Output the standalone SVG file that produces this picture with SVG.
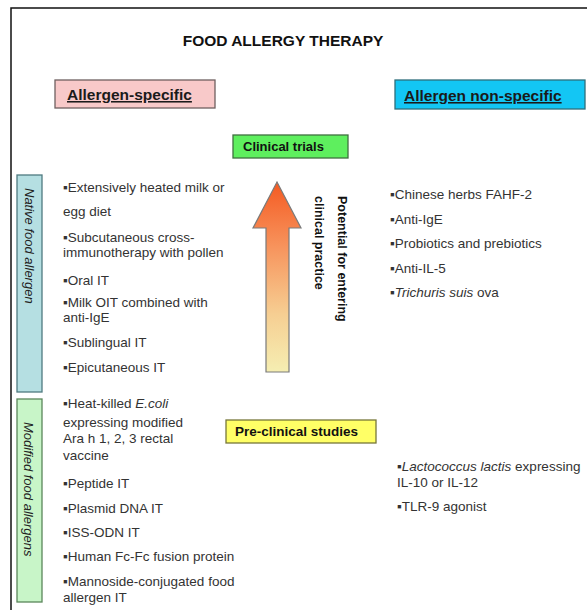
<svg xmlns="http://www.w3.org/2000/svg" width="587" height="610" viewBox="0 0 587 610">
  <defs>
    <linearGradient id="arrowFill" x1="0" y1="0" x2="0" y2="1">
      <stop offset="0" stop-color="#f45a22"/>
      <stop offset="0.35" stop-color="#f7955e"/>
      <stop offset="0.7" stop-color="#f6cf93"/>
      <stop offset="1" stop-color="#f5eeb2"/>
    </linearGradient>
  </defs>
  <style>
    text { font-family: "Liberation Sans", Arial, sans-serif; }
    .title { font-size: 15.5px; font-weight: bold; fill: #111; }
    .head { font-size: 15.5px; font-weight: bold; fill: #1a1a1a; text-decoration: underline; }
    .stage { font-size: 13px; font-weight: bold; fill: #111; }
    .item { font-size: 13.5px; fill: #333; }
    .side { font-size: 13px; font-style: italic; fill: #222; }
    .vert { font-size: 12.5px; font-weight: bold; fill: #111; }
    .it { font-style: italic; }
    .box { stroke-width: 1.3; }
  </style>

  <rect x="0" y="0" width="587" height="610" fill="#ffffff"/>
  <!-- outer frame -->
  <rect x="11" y="8" width="620" height="640" fill="none" stroke="#111" stroke-width="1.5"/>

  <text class="title" x="283" y="46" text-anchor="middle">FOOD ALLERGY THERAPY</text>

  <g id="allergen-specific">
    <rect class="box" x="55" y="80" width="160" height="28" fill="#f8c9c9" stroke="#6f6060"/>
    <text class="head" x="67" y="100">Allergen-specific</text>
  </g>

  <g id="allergen-non-specific">
    <rect class="box" x="395" y="80" width="190" height="29" fill="#13c6f4" stroke="#2f6f7c"/>
    <text class="head" x="404" y="101">Allergen non-specific</text>
  </g>

  <g id="clinical-trials">
    <rect class="box" x="233" y="135" width="115" height="23" fill="#5eef5e" stroke="#3f6f3f"/>
    <text class="stage" x="243" y="151">Clinical trials</text>
  </g>

  <g id="pre-clinical-studies">
    <rect class="box" x="226" y="420" width="150" height="23" fill="#ffff66" stroke="#77773a"/>
    <text class="stage" x="235" y="436" style="font-size:13.5px">Pre-clinical studies</text>
  </g>

  <g id="native-food-allergen">
    <rect class="box" x="17" y="175" width="25" height="217" fill="#b5dfe2" stroke="#4f7a80"/>
    <text class="side" transform="translate(25 188) rotate(90)">Native food allergen</text>
  </g>

  <g id="modified-food-allergens">
    <rect class="box" x="17" y="399" width="25" height="203" fill="#c8f5c8" stroke="#5a865a"/>
    <text class="side" transform="translate(24 422) rotate(90)">Modified food allergens</text>
  </g>

  <!-- connectors: progression arrow and its label -->
  <g id="connectors">
    <polygon points="277,182 301,228 289,228 289,372 266,372 266,228 253,228" fill="url(#arrowFill)" stroke="#7a7a7a" stroke-width="1.2" stroke-linejoin="miter"/>
    <text class="vert" transform="translate(338 196) rotate(90)">Potential for entering</text>
    <text class="vert" transform="translate(315 196) rotate(90)">clinical practice</text>
  </g>

  <g id="native-specific-list">
    <text class="item" x="63" y="192">▪Extensively heated milk or</text>
    <text class="item" x="63" y="216">egg diet</text>
    <text class="item" x="63" y="242">▪Subcutaneous cross-</text>
    <text class="item" x="63" y="257">immunotherapy with pollen</text>
    <text class="item" x="63" y="285">▪Oral IT</text>
    <text class="item" x="63" y="307">▪Milk OIT combined with</text>
    <text class="item" x="63" y="322">anti-IgE</text>
    <text class="item" x="63" y="347">▪Sublingual IT</text>
    <text class="item" x="63" y="372">▪Epicutaneous IT</text>
  </g>

  <g id="native-nonspecific-list">
    <text class="item" x="390" y="199">▪Chinese herbs FAHF-2</text>
    <text class="item" x="390" y="224">▪Anti-IgE</text>
    <text class="item" x="390" y="248">▪Probiotics and prebiotics</text>
    <text class="item" x="390" y="273">▪Anti-IL-5</text>
    <text class="item" x="390" y="297">▪<tspan class="it">Trichuris suis</tspan> ova</text>
  </g>

  <g id="modified-specific-list">
    <text class="item" x="63" y="408">▪Heat-killed <tspan class="it">E.coli</tspan></text>
    <text class="item" x="63" y="427">expressing modified</text>
    <text class="item" x="63" y="443">Ara h 1, 2, 3 rectal</text>
    <text class="item" x="63" y="460">vaccine</text>
    <text class="item" x="63" y="488">▪Peptide IT</text>
    <text class="item" x="63" y="513">▪Plasmid DNA IT</text>
    <text class="item" x="63" y="537">▪ISS-ODN IT</text>
    <text class="item" x="63" y="561">▪Human Fc-Fc fusion protein</text>
    <text class="item" x="63" y="586">▪Mannoside-conjugated food</text>
    <text class="item" x="63" y="602">allergen IT</text>
  </g>

  <g id="modified-nonspecific-list">
    <text class="item" x="397" y="471">▪<tspan class="it">Lactococcus lactis</tspan> expressing</text>
    <text class="item" x="397" y="487">IL-10 or IL-12</text>
    <text class="item" x="397" y="511">▪TLR-9 agonist</text>
  </g>
</svg>
